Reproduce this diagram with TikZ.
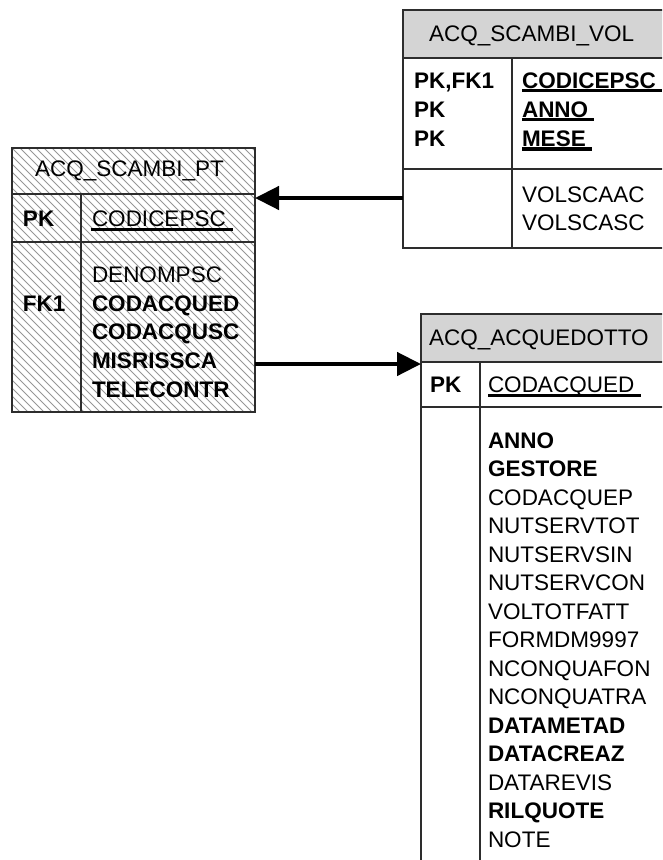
\documentclass[tikz,border=0pt]{standalone}
\usepackage{fontspec}
\setmainfont{Liberation Sans}
\usetikzlibrary{arrows.meta}
\definecolor{hdr}{RGB}{212,212,212}
\definecolor{bord}{RGB}{45,45,45}
\definecolor{hatchc}{RGB}{150,150,150}
\begin{document}
\begin{tikzpicture}[x=1pt,y=-1pt,
  every node/.style={inner sep=0pt, outer sep=0pt},
  txt/.style={anchor=base west, font=\fontsize{22.5}{28}\selectfont},
  btxt/.style={anchor=base west, font=\fontsize{22.5}{28}\selectfont\bfseries},
  tbl/.style={draw=bord, line width=1.4pt, anchor=north west},
  hdrfill/.style={path picture={\fill[hdr] (path picture bounding box.north west) rectangle ([yshift=-#1]path picture bounding box.north east);}},
  hatched/.style={path picture={\foreach \k in {-35,...,32} \draw[hatchc, line width=0.8pt] ([xshift=\k*8pt]path picture bounding box.north west) -- ++(300,300);}},
  sep/.style={draw=bord, line width=1.4pt},
  ul/.style={line width=3pt},
  fk/.style={line width=4.5pt, -{Triangle[length=24pt,width=23pt]}},
]
\useasboundingbox (0,0) rectangle (662,860);
\clip (0,0) rectangle (662,860);

% ---------- ACQ_SCAMBI_PT ----------
\node[tbl, hatched, minimum width=243pt, minimum height=264pt] (pt) at (12,148) {};
\draw[sep] (pt.west |- 0,194) -- (pt.east |- 0,194);
\draw[sep] (pt.west |- 0,242) -- (pt.east |- 0,242);
\draw[sep] (81,194) -- (81,0 |- pt.south);
\node[txt] (pth) at (35,176) {ACQ\_SCAMBI\_PT};
\node[btxt] (ptk1) at (23,226) {PK};
\node[txt] (pta1) at (92,226) {CODICEPSC};
\draw[ul] ([xshift=-1.5pt,yshift=-3pt]pta1.base west) -- ([xshift=7pt,yshift=-3pt]pta1.base east);
\node[btxt] (ptk2) at (23,311) {FK1};
\node[txt] (pta2) at (92,282) {DENOMPSC};
\node[btxt] (pta3) at (92,311) {CODACQUED};
\node[btxt] (pta4) at (92,339.5) {CODACQUSC};
\node[btxt] (pta5) at (92,368) {MISRISSCA};
\node[btxt] (pta6) at (92,397) {TELECONTR};

% ---------- ACQ_SCAMBI_VOL ----------
\node[tbl, hdrfill=48pt, minimum width=300pt, minimum height=238pt] (vol) at (403,10) {};
\draw[sep] (vol.west |- 0,58) -- (vol.east |- 0,58);
\draw[sep] (vol.west |- 0,169) -- (vol.east |- 0,169);
\draw[sep] (512,58) -- (512,0 |- vol.south);
\node[txt] (volh) at (429,41.5) {ACQ\_SCAMBI\_VOL};
\node[btxt] (volk1) at (414,88) {PK,FK1};
\node[btxt] (volk2) at (414,117) {PK};
\node[btxt] (volk3) at (414,146) {PK};
\node[btxt] (vola1) at (522,88) {CODICEPSC};
\node[btxt] (vola2) at (522,117) {ANNO};
\node[btxt] (vola3) at (522,146) {MESE};
\draw[ul] ([yshift=-2.8pt]vola1.base west) -- ([xshift=6pt,yshift=-2.8pt]vola1.base east);
\draw[ul] ([yshift=-2.8pt]vola2.base west) -- ([xshift=6pt,yshift=-2.8pt]vola2.base east);
\draw[ul, line width=3.8pt] ([yshift=-3.3pt]vola3.base west) -- ([xshift=6pt,yshift=-3.3pt]vola3.base east);
\node[txt] (vola4) at (522,202) {VOLSCAAC};
\node[txt] (vola5) at (522,230) {VOLSCASC};

% ---------- ACQ_ACQUEDOTTO ----------
\node[tbl, hdrfill=48pt, minimum width=300pt, minimum height=600pt] (acq) at (421,314) {};
\draw[sep] (acq.west |- 0,362) -- (acq.east |- 0,362);
\draw[sep] (acq.west |- 0,407) -- (acq.east |- 0,407);
\draw[sep] (480,362) -- (480,0 |- acq.south);
\node[txt] (acqh) at (429,345) {ACQ\_ACQUEDOTTO};
\node[btxt] (acqk) at (430,392) {PK};
\node[txt] (acqa0) at (488,392) {CODACQUED};
\draw[ul] ([yshift=-3pt]acqa0.base west) -- ([xshift=7pt,yshift=-3pt]acqa0.base east);
\foreach \t [count=\i from 0] in {\textbf{ANNO},\textbf{GESTORE},CODACQUEP,NUTSERVTOT,NUTSERVSIN,NUTSERVCON,VOLTOTFATT,FORMDM9997,NCONQUAFON,NCONQUATRA,\textbf{DATAMETAD},\textbf{DATACREAZ},DATAREVIS,\textbf{RILQUOTE},NOTE}
  \node[txt] (acqf\i) at (488,448+28.5*\i) {\t};

% ---------- connectors ----------
\coordinate (r1) at (0,198);
\coordinate (r2) at (0,364);
\draw[fk] (vol.west |- r1) -- (pt.east |- r1);
\draw[fk] (pt.east |- r2) -- (acq.west |- r2);
\end{tikzpicture}
\end{document}
